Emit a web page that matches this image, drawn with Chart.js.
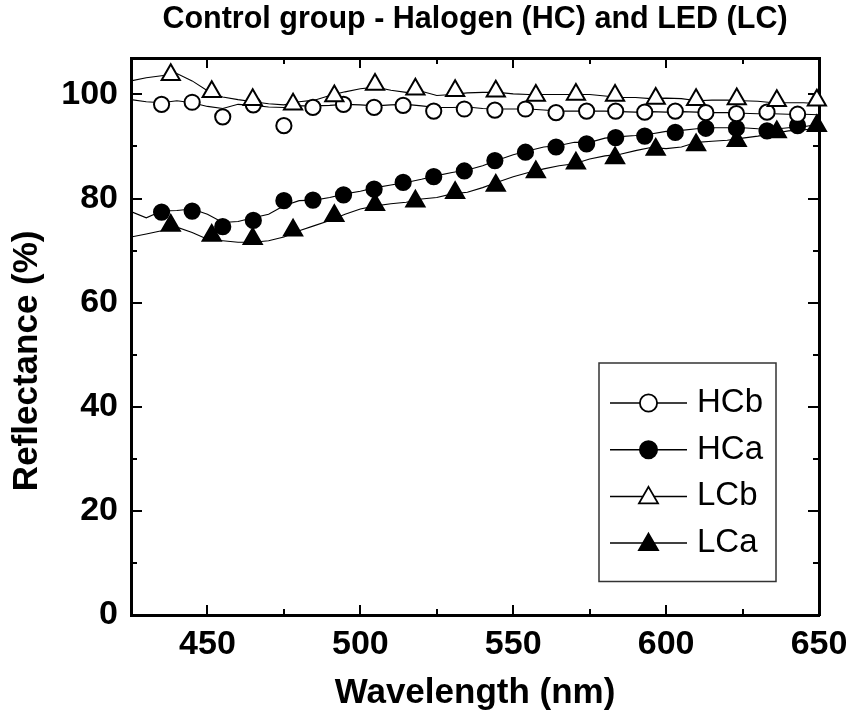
<!DOCTYPE html>
<html>
<head>
<meta charset="utf-8">
<script src="https://cdn.jsdelivr.net/npm/chart.js@4/dist/chart.umd.min.js"></script>
<style>
  html, body { margin: 0; padding: 0; background: #fff; }
  canvas { display: block; }
</style>
</head>
<body>
<canvas id="c" width="850" height="718"></canvas>
<script>
// ---------------- data ----------------
const chartTitle = 'Control group - Halogen (HC) and LED (LC)';
const xTitle = 'Wavelength (nm)';
const yTitle = 'Reflectance (%)';
const seriesNames = ['HCb', 'HCa', 'LCb', 'LCa'];

const wavelengths = [425,430,435,440,445,450,455,460,465,470,475,480,485,490,495,500,505,510,515,520,525,530,535,540,545,550,555,560,565,570,575,580,585,590,595,600,605,610,615,620,625,630,635,640,645,650];
const specHCb = [99.0,98.6,98.4,98.8,98.4,97.7,97.3,98.1,97.9,97.6,97.5,97.8,97.8,97.9,98.1,98.0,97.8,98.0,98.1,97.8,97.5,97.5,97.6,97.3,97.2,97.2,97.2,97.0,96.8,96.8,96.8,96.8,96.7,96.6,96.7,96.6,96.7,96.6,96.5,96.5,96.4,96.3,96.3,96.2,96.2,96.1];
const specHCa = [77.5,76.3,77.6,77.7,78.0,77.0,75.4,75.6,76.3,77.0,78.6,79.6,79.7,80.2,80.9,81.4,82.1,82.6,83.1,83.7,84.4,85.0,85.5,86.3,87.4,88.4,89.2,89.9,90.2,90.8,90.8,91.6,91.9,92.1,92.4,92.9,93.1,93.4,93.6,93.6,93.6,93.4,93.3,93.6,93.8,94.3];
const specLCb = [102.6,103.2,103.6,104.0,102.6,100.7,99.5,99.0,98.6,98.2,98.0,98.6,98.9,99.8,100.5,101.1,101.4,100.8,100.4,100.6,99.8,100.0,100.3,100.4,100.4,100.1,100.0,100.0,100.0,100.0,100.0,99.7,99.4,99.4,99.2,99.3,99.2,98.8,98.9,98.9,98.8,98.7,98.4,98.4,98.4,98.2];
const specLCa = [72.6,73.2,73.8,74.5,73.5,72.2,71.9,71.6,71.6,71.9,72.6,73.8,74.8,75.8,77.0,78.0,78.6,79.0,79.3,79.9,80.2,80.9,81.2,82.1,83.2,84.2,85.0,85.7,86.3,86.7,87.6,88.2,88.5,89.2,89.8,89.6,89.9,90.8,91.0,91.2,91.6,92.0,92.5,93.0,93.2,93.5];

const hcMarkerX = [435,445,455,465,475,484.5,494.5,504.5,514,524,534,544,554,564,574,583.5,593,603,613,623,633,643];
const hcbMarkers = [98.1,98.5,95.7,98.0,94.0,97.5,98.1,97.5,97.9,96.8,97.2,97.0,97.2,96.5,96.8,96.8,96.6,96.8,96.5,96.3,96.6,96.2];
const hcaMarkers = [77.4,77.6,74.6,75.8,79.6,79.7,80.7,81.8,83.1,84.2,85.3,87.3,88.9,89.9,90.5,91.7,92.0,92.7,93.5,93.5,93.0,94.0];

const lcMarkerX = [438,451.4,464.8,478,491.5,504.8,518,531,544.3,557.4,570.5,583.3,596.6,609.8,623.1,636.2,649.3];
const lcbMarkers = [103.8,100.5,99.0,98.1,99.7,101.9,101.0,100.7,100.6,99.8,100.0,99.8,99.2,99.0,99.1,98.8,98.9];
const lcaMarkers = [74.8,72.9,72.3,73.9,76.7,78.8,79.5,81.1,82.5,85.1,86.8,87.8,89.4,90.3,91.1,92.8,94.0];

const xMin = 425, xMax = 650, yMin = 0, yMax = 107;
const xMajorTicks = [450,500,550,600,650];
const xMinorTicks = [425,475,525,575,625];
const yMajorTicks = [0,20,40,60,80,100];
const yMinorTicks = [10,30,50,70,90];

// ---------------- styling ----------------
const FAMILY = '"Liberation Sans", Arial, Helvetica, sans-serif';
Chart.defaults.font.family = FAMILY;
Chart.defaults.color = '#000';

const pts = (xs, ys) => xs.map((x, i) => ({x: x, y: ys[i]}));

function spectrum(name, ys) {
  return {
    label: name + ' spectrum', isSpectrum: true,
    data: pts(wavelengths, ys), showLine: true,
    borderColor: '#000', borderWidth: 1.1, pointRadius: 0, pointHoverRadius: 0,
    tension: 0, fill: false, order: 10
  };
}
function markers(name, xs, ys, style, filled, radius, order) {
  return {
    label: name, showLine: false,
    data: pts(xs, ys),
    pointStyle: style, pointRadius: radius, pointHoverRadius: radius,
    pointBackgroundColor: filled ? '#000' : '#fff',
    pointBorderColor: '#000', pointBorderWidth: 2,
    clip: false, order: order, legendFilled: filled
  };
}

function axis(o) {
  const horizontal = o.position === 'top' || o.position === 'bottom';
  return {
    type: 'linear', position: o.position, min: o.min, max: o.max,
    bounds: 'data', weight: o.weight,
    grid: { display: true, drawOnChartArea: false, drawTicks: true,
            tickLength: -o.len, tickWidth: 2, tickColor: '#000', lineWidth: 2, color: '#000' },
    border: { display: !!o.border, width: 3, color: '#000' },
    ticks: { display: !!o.labels, autoSkip: false, maxRotation: 0, minRotation: 0,
             padding: o.pad || 0, color: '#000',
             font: { family: FAMILY, size: 34, weight: 'bold' },
             callback: (v) => String(v) },
    title: o.title || { display: false },
    afterBuildTicks: (s) => { s.ticks = o.ticks.map(v => ({ value: v })); },
    afterFit: (s) => {
      if (horizontal) s.height = o.size; else s.width = o.size;
      s.paddingLeft = 0; s.paddingRight = 0; s.paddingTop = 0; s.paddingBottom = 0;
    }
  };
}

const insetLegend = {
  id: 'insetLegend',
  afterDatasetsDraw(chart) {
    const { ctx, chartArea: ca } = chart;
    const left = ca.right - 220, right = ca.right - 43;
    const top = ca.top + 305, bottom = ca.top + 523.5;
    ctx.save();
    ctx.fillStyle = '#fff';
    ctx.fillRect(left, top, right - left, bottom - top);
    ctx.strokeStyle = '#333';
    ctx.lineWidth = 1.5;
    ctx.strokeRect(left, top, right - left, bottom - top);
    const items = seriesNames.map(n => chart.data.datasets.find(d => d.label === n));
    items.forEach((ds, i) => {
      const cy = top + 40 + i * 46.7;
      ctx.strokeStyle = '#000';
      ctx.lineWidth = 1.5;
      ctx.beginPath();
      ctx.moveTo(left + 11, cy);
      ctx.lineTo(left + 88, cy);
      ctx.stroke();
      const mx = left + 49.5;
      ctx.fillStyle = ds.legendFilled ? '#000' : '#fff';
      ctx.lineWidth = 1.8;
      ctx.beginPath();
      if (ds.pointStyle === 'circle') {
        ctx.arc(mx, cy, 8.6, 0, Math.PI * 2);
      } else {
        const r = 11, my = cy + 1.5;
        let rad = 0;
        ctx.moveTo(mx + Math.sin(rad) * r, my - Math.cos(rad) * r);
        rad += 2 * Math.PI / 3;
        ctx.lineTo(mx + Math.sin(rad) * r, my - Math.cos(rad) * r);
        rad += 2 * Math.PI / 3;
        ctx.lineTo(mx + Math.sin(rad) * r, my - Math.cos(rad) * r);
        ctx.closePath();
      }
      ctx.fill();
      ctx.stroke();
      ctx.fillStyle = '#000';
      ctx.font = '33px ' + FAMILY;
      ctx.textAlign = 'left';
      ctx.textBaseline = 'middle';
      ctx.fillText(ds.label, left + 98, cy);
    });
    ctx.restore();
  }
};

new Chart(document.getElementById('c'), {
  type: 'scatter',
  data: {
    datasets: [
      markers(seriesNames[2], lcMarkerX, lcbMarkers, 'triangle', false, 10.5, 1),
      markers(seriesNames[3], lcMarkerX, lcaMarkers, 'triangle', true, 10.5, 1),
      markers(seriesNames[0], hcMarkerX, hcbMarkers, 'circle', false, 7.6, 2),
      markers(seriesNames[1], hcMarkerX, hcaMarkers, 'circle', true, 7.6, 2),
      spectrum(seriesNames[0], specHCb),
      spectrum(seriesNames[1], specHCa),
      spectrum(seriesNames[2], specLCb),
      spectrum(seriesNames[3], specLCa)
    ]
  },
  options: {
    responsive: false, animation: false, devicePixelRatio: 1,
    layout: { padding: { top: 0, right: 31, bottom: 0, left: 0 } },
    events: [],
    plugins: {
      legend: { display: false },
      tooltip: { enabled: false },
      title: {
        display: true, text: chartTitle, fullSize: false, align: 'center', color: '#000',
        font: { family: FAMILY, size: 30.5, weight: 'bold', lineHeight: 1.2 },
        padding: { top: 1.3, bottom: 20.1 }
      }
    },
    scales: {
      x: axis({ position: 'bottom', min: xMin, max: xMax, weight: 1, len: 10, border: true, labels: true,
                pad: 19.5, size: 103, ticks: xMajorTicks,
                title: { display: true, text: xTitle, color: '#000',
                         font: { family: FAMILY, size: 35, weight: 'bold', lineHeight: 1.2 },
                         padding: { top: 0, bottom: 4 } } }),
      xMinor: axis({ position: 'bottom', min: xMin, max: xMax, weight: 0, len: 6, size: 0, ticks: xMinorTicks }),
      xTop: axis({ position: 'top', min: xMin, max: xMax, weight: 1, len: 10, border: true, size: 0, ticks: xMajorTicks }),
      xTopMinor: axis({ position: 'top', min: xMin, max: xMax, weight: 0, len: 6, size: 0, ticks: xMinorTicks }),
      y: axis({ position: 'left', min: yMin, max: yMax, weight: 1, len: 11, border: true, labels: true,
                pad: 24, size: 131, ticks: yMajorTicks,
                title: { display: true, text: yTitle + '     ', color: '#000',
                         font: { family: FAMILY, size: 35, weight: 'bold', lineHeight: 1.2 },
                         padding: { top: 6.5, bottom: 0 } } }),
      yMinor: axis({ position: 'left', min: yMin, max: yMax, weight: 0, len: 6, size: 0, ticks: yMinorTicks }),
      yRight: axis({ position: 'right', min: yMin, max: yMax, weight: 1, len: 11, border: true, size: 0, ticks: yMajorTicks }),
      yRightMinor: axis({ position: 'right', min: yMin, max: yMax, weight: 0, len: 6, size: 0, ticks: yMinorTicks })
    }
  },
  plugins: [insetLegend]
});
</script>
</body>
</html>
